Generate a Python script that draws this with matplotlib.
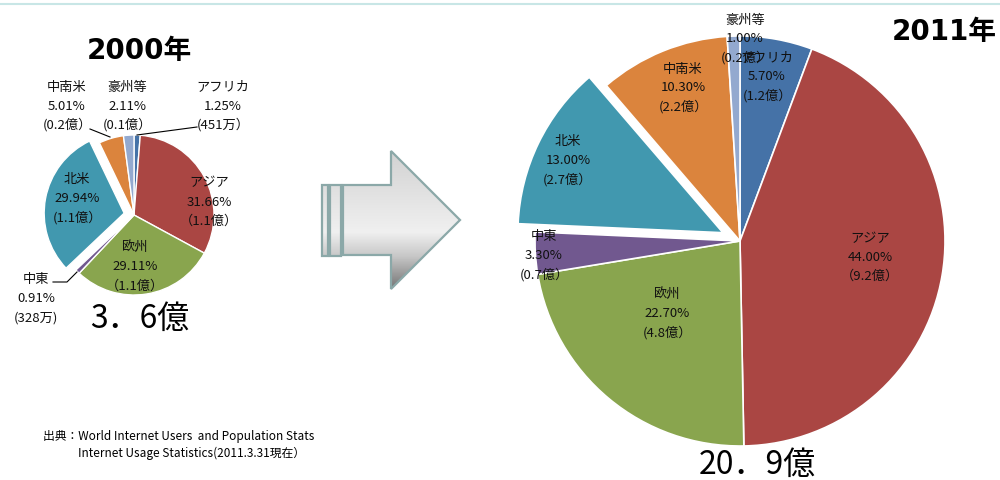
import numpy as np
import matplotlib
matplotlib.use("Agg")
import matplotlib.pyplot as plt
from matplotlib.patches import Polygon
from matplotlib.colors import LinearSegmentedColormap

plt.rcParams['font.family'] = ['Noto Sans CJK JP', 'DejaVu Sans']

# data
regions = ['アフリカ', 'アジア', '欧州', '中東', '北米', '中南米', '豪州等']
share_2000 = [1.25, 31.66, 29.11, 0.91, 29.94, 5.01, 2.11]
users_2000 = ['(451万）', '（1.1億）', '（1.1億）', '(328万)', '(1.1億）', '(0.2億）', '(0.1億）']
share_2011 = [5.70, 44.00, 22.70, 3.30, 13.00, 10.30, 1.00]
users_2011 = ['(1.2億）', '（9.2億）', '(4.8億）', '(0.7億）', '(2.7億）', '(2.2億）', '(0.2億）']
total_2000 = '3．6億'
total_2011 = '20．9億'

colors = ['#4572A7', '#AA4643', '#89A54E', '#71588F', '#4198AF', '#DB843D', '#93A9CF']

W, H = 1000, 481
fig = plt.figure(figsize=(W / 100, H / 100), dpi=100)
ax = fig.add_axes([0, 0, 1, 1])

def py(y):
    # pixel row -> data y (origin bottom)
    return H - y

# pies
ax.pie(share_2000, colors=colors, startangle=90, counterclock=False,
       explode=[0, 0, 0, 0, 10, 0, 0], radius=80, center=(134, py(216)),
       wedgeprops=dict(edgecolor='white', linewidth=1), frame=True)
ax.pie(share_2011, colors=colors, startangle=90, counterclock=False,
       explode=[0, 0, 0, 0, 19, 0, 0], radius=205, center=(740, py(242)),
       wedgeprops=dict(edgecolor='white', linewidth=1.2), frame=True)

# label positions (first line centre, pixels)
pos_2000 = [(223, 87), (209, 183), (135, 248), (36, 280), (77, 180), (67, 87), (127, 87)]
pos_2011 = [(767, 58), (870, 239), (667, 295), (544, 237), (568, 142), (683, 69), (745, 20)]

def labels(pos, shares, users, step):
    for (x, y), name, s, u in zip(pos, regions, shares, users):
        for i, t in enumerate([name, '%.2f%%' % s, u]):
            ax.text(x, py(y + i * step), t, ha='center', va='center', fontsize=9.5, color='#111111')

labels(pos_2000, share_2000, users_2000, 19)
labels(pos_2011, share_2011, users_2011, 18.7)

# leader lines for the small 2000 slices
for pts in [[(90, 130), (110, 138)], [(197, 128), (137, 136)], [(53, 283), (67, 283), (77, 273)]]:
    xs, ys = zip(*pts)
    ax.plot(xs, [py(v) for v in ys], color='black', lw=0.8)

# titles and totals
title_font = ['DejaVu Sans', 'Noto Sans CJK JP']
ax.text(139, py(51), '2000年', ha='center', va='center', fontsize=20, fontweight='bold', family=title_font)
ax.text(944, py(32), '2011年', ha='center', va='center', fontsize=20, fontweight='bold', family=title_font)
ax.text(140, py(319), total_2000, ha='center', va='center', fontsize=23)
ax.text(757, py(465), total_2011, ha='center', va='center', fontsize=23)

ax.text(43, py(437), '出典：World Internet Users  and Population Stats', ha='left', va='center', fontsize=8.5)
ax.text(78, py(453), 'Internet Usage Statistics(2011.3.31現在）', ha='left', va='center', fontsize=8.5)

# top border line
ax.plot([0, W], [py(5), py(5)], color='#c8e6e6', lw=1.5)

# arrow with gray gradient
grad = LinearSegmentedColormap.from_list('g', [(0, '#d2d2d2'), (0.58, '#f0f0f0'), (0.75, '#c8c8c8'), (1, '#707070')])
edge = '#8ba8a8'
arrow_shapes = [
    [(343, 186), (391, 186), (391, 152), (460, 221), (391, 290), (391, 256), (343, 256)],
    [(322, 186), (328, 186), (328, 257), (322, 257)],
    [(330, 186), (341, 186), (341, 257), (330, 257)],
]
for pts in arrow_shapes:
    verts = [(x, py(y)) for x, y in pts]
    clip = Polygon(verts, closed=True, facecolor='none', edgecolor='none')
    ax.add_patch(clip)
    im = ax.imshow(np.linspace(0, 1, 200).reshape(-1, 1), cmap=grad, aspect='auto',
                   extent=(320, 462, py(292), py(152)), zorder=1)
    im.set_clip_path(clip)
    ax.add_patch(Polygon(verts, closed=True, facecolor='none', edgecolor=edge, lw=1.6, zorder=2))

ax.set_xlim(0, W)
ax.set_ylim(0, H)
ax.set_aspect('auto')
ax.axis('off')

fig.savefig('out.png', dpi=100)
